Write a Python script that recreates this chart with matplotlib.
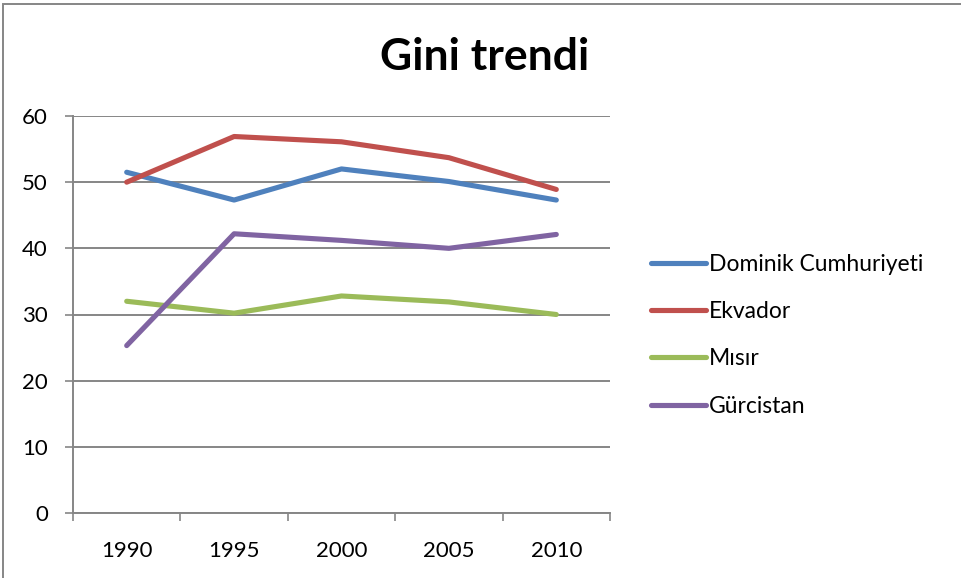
import matplotlib
matplotlib.use("Agg")
import matplotlib.pyplot as plt
from matplotlib.patches import Rectangle
import numpy as np

years = ["1990", "1995", "2000", "2005", "2010"]
dominik = [51.5, 47.3, 52.0, 50.1, 47.3]
ekvador = [50.0, 56.9, 56.1, 53.7, 48.9]
misir = [32.0, 30.2, 32.8, 31.9, 30.0]
gurcistan = [25.3, 42.2, 41.2, 40.0, 42.1]

series = [
    ("Dominik Cumhuriyeti", dominik, "#4F81BD"),
    ("Ekvador", ekvador, "#C0504D"),
    ("Mısır", misir, "#9BBB59"),
    ("Gürcistan", gurcistan, "#8064A2"),
]

plt.rcParams['font.family'] = ['Lato', 'DejaVu Sans']

fig = plt.figure(figsize=(9.61, 5.78), dpi=100)
ax = fig.add_axes([73/961, 1-513/578, (610-73)/961, (513-116)/578])

x = np.arange(len(years))
for name, vals, col in series:
    ax.plot(x, vals, color=col, lw=3.7, solid_capstyle='round', solid_joinstyle='round', label=name)

gray = "#868686"
ax.set_xlim(-0.5, len(years)-0.5)
ax.set_ylim(0, 60)
ax.set_yticks(np.arange(0, 61, 10))
ax.yaxis.grid(True, color=gray, lw=1.4)
ax.set_axisbelow(True)
ax.set_xticks(x)
ax.set_xticklabels(years)
ax.set_xticks(np.arange(-0.5, len(years), 1.0), minor=True)
ax.tick_params(axis='x', which='major', length=0, pad=20, labelsize=16)
ax.tick_params(axis='x', which='minor', length=6, width=1.2, color=gray, direction='out')
ax.tick_params(axis='y', length=6, width=1.2, color=gray, direction='out', pad=12, labelsize=16)
for s in ['top', 'right']:
    ax.spines[s].set_visible(False)
for s in ['left', 'bottom']:
    ax.spines[s].set_color(gray)
    ax.spines[s].set_linewidth(1.4)

fig.text(485/961, 1-57/578, "Gini trendi", ha='center', va='center', fontsize=32, fontweight='bold')

leg = fig.legend(loc='upper left', bbox_to_anchor=(630/961, 1-233/578), frameon=False,
                 fontsize=16.5, handlelength=2.4, handletextpad=0.15, labelspacing=1.15)

fig.patches.append(Rectangle((3/961, -0.05), 1.2, 1-4/578+0.05, transform=fig.transFigure,
                             fill=False, edgecolor=gray, lw=1.4))

fig.savefig("out.png", dpi=100)
